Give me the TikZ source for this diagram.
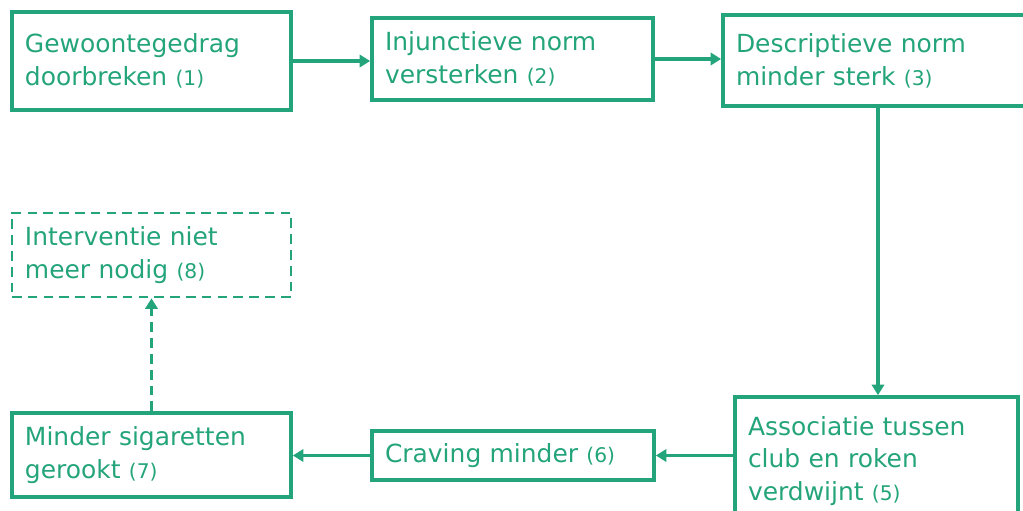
\documentclass[tikz,border=0pt]{standalone}
\usepackage{fontspec}
\setmainfont{DejaVu Sans}
\usepackage{tikz}
\usetikzlibrary{arrows.meta}
\definecolor{groen}{RGB}{36,164,122}
\newcommand{\stapnr}[1]{{\fontsize{11.5}{12}\selectfont(#1)}}
\tikzset{
  stap/.style={draw=groen, line width=2.1pt, text=groen, align=left,
    inner xsep=0.26cm, font=\fontsize{14.2}{18.7}\selectfont},
  pijl/.style={draw=groen, line width=2.1pt, -{Triangle[length=6pt,width=7pt]}},
  stippel/.style={line width=1.5pt, dash pattern=on 5.5pt off 3.5pt}
}
\begin{document}
\begin{tikzpicture}
    \useasboundingbox (0,0) rectangle (20.46,-10.22);
    \node [stap, text width=5.06cm, minimum height=1.96cm] (b1) at (3.03,-1.22) {Gewoontegedrag\\doorbreken \stapnr{1}};
    \node [stap, text width=5.10cm, minimum height=1.64cm] (b2) at (10.25,-1.18) {Injunctieve norm\\versterken \stapnr{2}};
    \node [stap, text width=5.68cm, minimum height=1.82cm] (b3) at (17.56,-1.21) {Descriptieve norm\\minder sterk \stapnr{3}};
    \node [stap, text width=5.14cm, minimum height=2.56cm] (b5) at (17.53,-9.22) {Associatie tussen\\club en roken\\verdwijnt \stapnr{5}};
    \node [stap, text width=5.12cm, minimum height=0.98cm] (b6) at (10.26,-9.11) {Craving minder \stapnr{6}};
    \node [stap, text width=5.06cm, minimum height=1.68cm] (b7) at (3.03,-9.10) {Minder sigaretten\\gerookt \stapnr{7}};
    \node [stap, stippel, text width=5.06cm, minimum height=1.68cm] (b8) at (3.03,-5.10) {Interventie niet\\meer nodig \stapnr{8}};
    \draw [pijl] (b1.east) -- (b1.east -| b2.west);
    \draw [pijl] (b2.east) -- (b2.east -| b3.west);
    \draw [pijl] (b3.south) -- (b3.south |- b5.north);
    \draw [pijl] (b5.west |- b6.east) -- (b6.east);
    \draw [pijl] (b6.west) -- (b6.west -| b7.east);
    \draw [pijl, stippel] (b7.north) -- (b8.south);
\end{tikzpicture}
\end{document}
